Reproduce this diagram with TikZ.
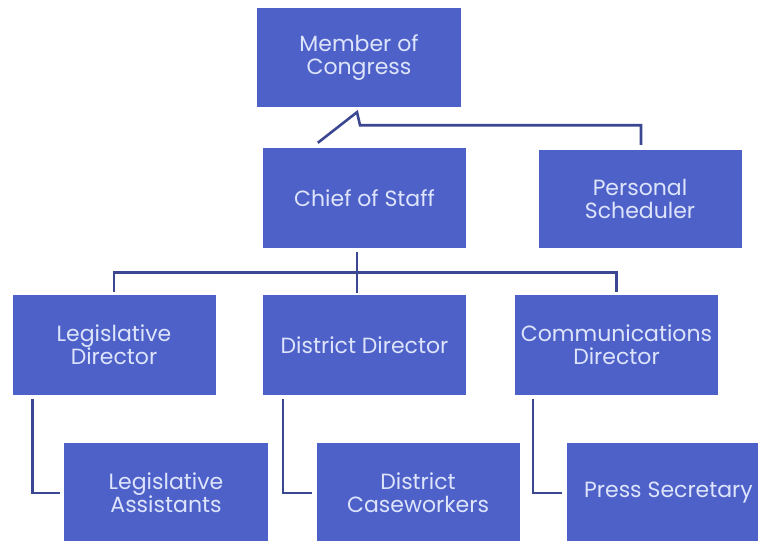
\documentclass[tikz,border=0pt]{standalone}
\usepackage{fontspec}
\setmainfont{Poppins}
\usetikzlibrary{calc}
\definecolor{boxblue}{HTML}{4E61C8}
\definecolor{linecol}{HTML}{3C4791}
\definecolor{txtcol}{HTML}{DDE4FB}
\tikzset{
  orgbox/.style={rectangle, fill=boxblue, text=txtcol, minimum width=203pt, minimum height=100pt,
    inner sep=0pt, align=center, font=\fontsize{22}{23}\selectfont},
  link/.style={draw=linecol, line width=2.6pt, line join=miter}
}
\begin{document}
\begin{tikzpicture}[x=1pt,y=-1pt]
\useasboundingbox (0,0) rectangle (758,541);
\clip (0,0) rectangle (758,541);
\fill[white] (0,0) rectangle (758,541);
\node[orgbox, minimum width=204pt, minimum height=99pt] (member) at (359,57.5) {Member of\\Congress};
\node[orgbox] (chief) at (364.5,198) {Chief of Staff};
\node[orgbox, minimum height=98pt] (sched) at (640,199) {Personal\\Scheduler};
\node[orgbox] (legdir) at (114,345) {Legislative\\Director};
\node[orgbox] (distdir) at (364.5,345) {District Director};
\node[orgbox] (commdir) at (616.5,345) {Communications\\Director};
\node[orgbox, minimum width=204pt] (legasst) at (166,493) {Legislative\\Assistants};
\node[orgbox] (distcase) at (418,493) {District\\Caseworkers};
\node[orgbox] (press) at (668.5,493) {Press Secretary};
% Member to chief / scheduler
\coordinate (apex) at ($(member.south)+(-2,5)$);
\draw[link] ($(chief.north west)+(55,-5)$) -- (apex) -- ($(apex)+(3,13)$) -| ($(sched.north)+(1,-5)$);
% Chief to directors
\coordinate (bar) at ($(chief.south)+(-7.5,24)$);
\draw[link] ($(chief.south)+(-7.5,4)$) -- ($(distdir.north)+(-7.5,-2)$);
\draw[link] ($(legdir.north)+(0,-3)$) |- (bar) -| ($(commdir.north)+(0,-3)$);
% Directors to staff
\draw[link] ($(legdir.south west)+(20,4)$) |- ($(legasst.west)+(-4,0)$);
\draw[link] ($(distdir.south west)+(20,4)$) |- ($(distcase.west)+(-4,0)$);
\draw[link] ($(commdir.south west)+(18,4)$) |- ($(press.west)+(-5,0)$);
\end{tikzpicture}
\end{document}
